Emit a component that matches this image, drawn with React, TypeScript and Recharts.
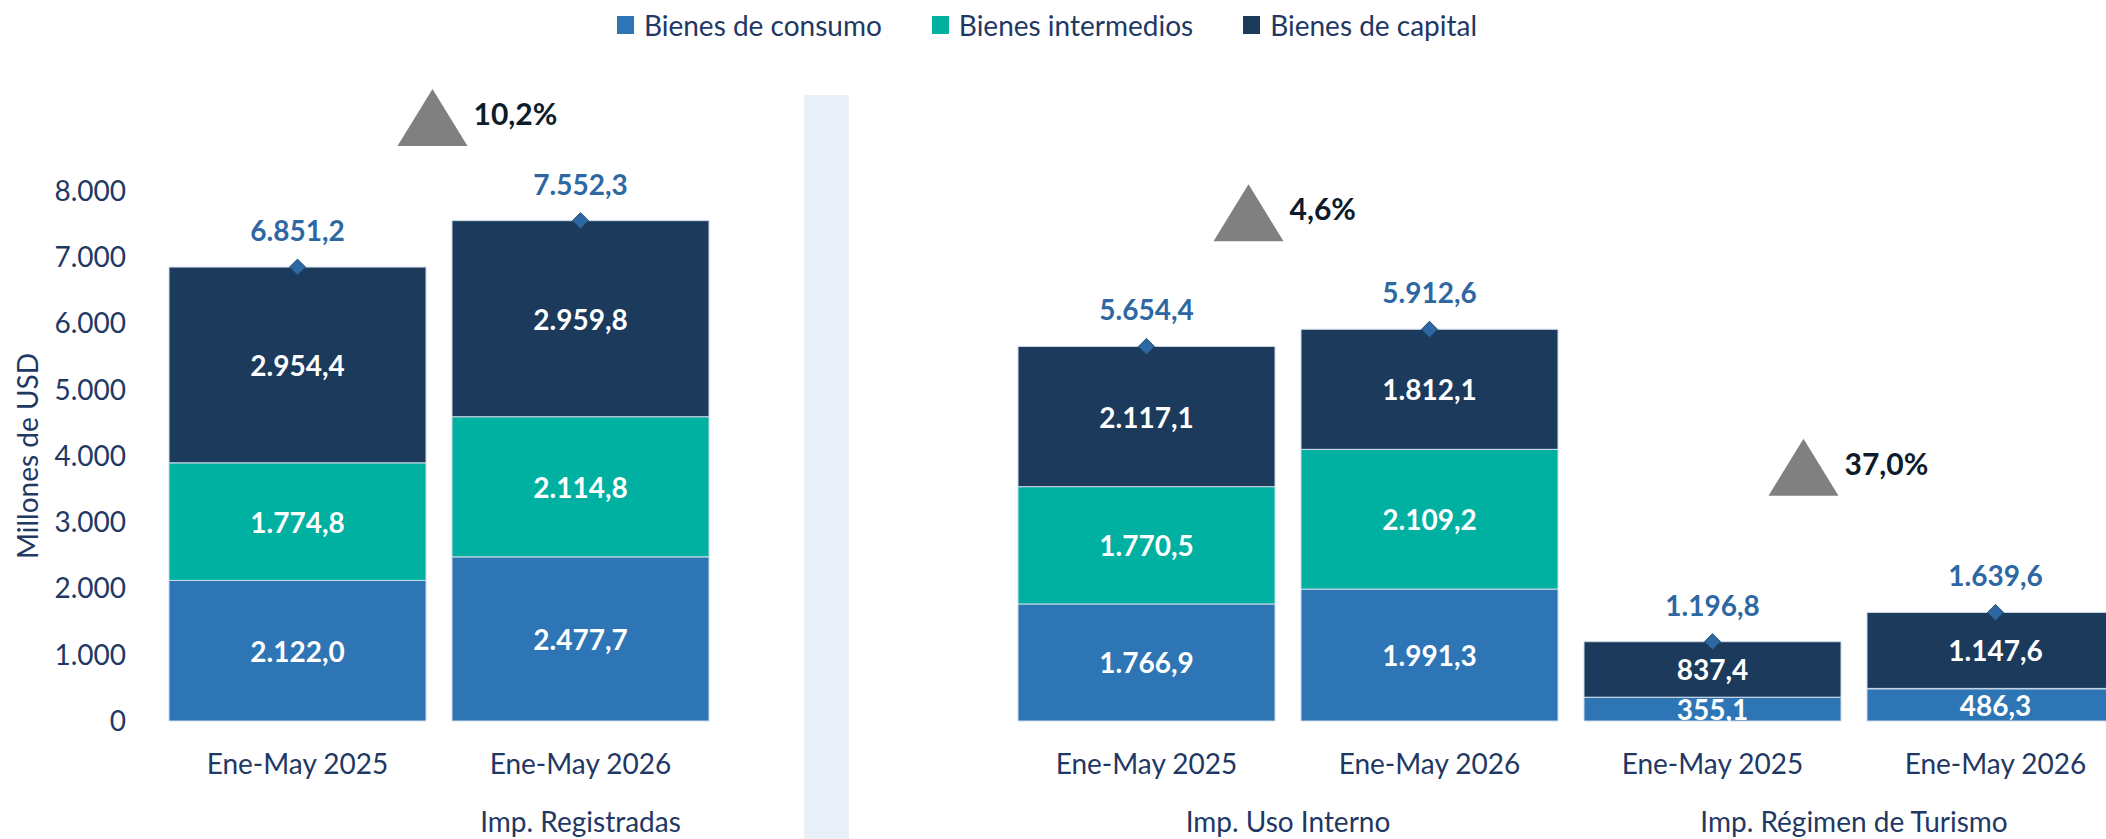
import { ComposedChart, Bar, Line, XAxis, YAxis, Legend, LabelList, ReferenceDot } from 'recharts';

// categorías (la del medio vacía separa los grupos)
const categoryIds = ['reg25', 'reg26', 'gap', 'uso25', 'uso26', 'tur25', 'tur26'];
const periodLabels = ['Ene-May 2025', 'Ene-May 2026', '', 'Ene-May 2025', 'Ene-May 2026', 'Ene-May 2025', 'Ene-May 2026'];

const consumo = [2122.0, 2477.7, null, 1766.9, 1991.3, 355.1, 486.3];
const intermedios = [1774.8, 2114.8, null, 1770.5, 2109.2, 4.3, 5.7];
const capital = [2954.4, 2959.8, null, 2117.1, 1812.1, 837.4, 1147.6];
const totales = [6851.2, 7552.3, null, 5654.4, 5912.6, 1196.8, 1639.6];

const yTicks = [0, 1000, 2000, 3000, 4000, 5000, 6000, 7000, 8000];

const seriesOrder = ['consumo', 'intermedios', 'capital'];

const groupNames = ['Imp. Registradas', 'Imp. Uso Interno', 'Imp. Régimen de Turismo'];
const groupFirst = [0, 3, 5];
const groupLast = [2, 4, 6];

const growthLabels = ['10,2%', '4,6%', '37,0%'];
const growthAt = ['reg26', 'uso26', 'tur26'];

// ubicación de los triángulos (valor del eje y de la base, corrimiento horizontal)
const growthBase = [8680, 7240, 3400];
const growthDx = [-148, -181, -192];

const NAVY = '#1F3864';
const FONT = 'Lato';
const C_CONSUMO = '#2E75B6';
const C_INTER = '#00B0A0';
const C_CAPITAL = '#1B3A5C';
const C_TOTAL = '#2D68A3';

const CHART_W = 2137;
const CHART_H = 839;
const Y_W = 156;
const BAND = (CHART_W - Y_W) / categoryIds.length;

const data = categoryIds.map((id, i) => ({
    id,
    consumo: consumo[i],
    intermedios: intermedios[i],
    capital: capital[i],
    total: totales[i],
}));

const fmt = (v: number) => {
    const [a, b] = v.toFixed(1).split('.');
    return a.replace(/\B(?=(\d{3})+(?!\d))/g, '.') + ',' + b;
};

const PeriodTick = (props: any) => {
    const { x, y, payload } = props;
    const i = categoryIds.indexOf(payload.value);
    const g = groupFirst.indexOf(i);
    return (
        <g>
            <text x={x} y={y + 42} textAnchor='middle' dominantBaseline='central' fill={NAVY} fontSize={28} fontFamily={FONT}>
                {periodLabels[i]}
            </text>
            {g >= 0 && (
                <text
                    x={x + ((groupLast[g] - groupFirst[g]) * BAND) / 2}
                    y={y + 100}
                    textAnchor='middle'
                    dominantBaseline='central'
                    fill={NAVY}
                    fontSize={28}
                    fontFamily={FONT}
                >
                    {groupNames[g]}
                </text>
            )}
        </g>
    );
};

const SegmentLabel = (props: any) => {
    const { x, y, width, height, value } = props;
    if (value == null || value < 100) return null;
    return (
        <text
            x={x + width / 2}
            y={y + height / 2}
            textAnchor='middle'
            dominantBaseline='central'
            fill='#fff'
            fontSize={28}
            fontWeight={700}
            fontFamily={FONT}
        >
            {fmt(value)}
        </text>
    );
};

const TotalLabel = (props: any) => {
    const { x, y, value } = props;
    if (value == null || y == null) return null;
    return (
        <text x={x} y={y - 37} textAnchor='middle' dominantBaseline='central' fill={C_TOTAL} fontSize={28} fontWeight={700} fontFamily={FONT}>
            {fmt(value)}
        </text>
    );
};

const Diamond = (props: any) => {
    const { cx, cy, index } = props;
    if (cy == null || props.payload?.total == null) return <g key={index} />;
    return (
        <path
            key={index}
            d={`M${cx},${cy - 8} L${cx + 8},${cy} L${cx},${cy + 8} L${cx - 8},${cy} Z`}
            fill={C_TOTAL}
            stroke='#1F4E79'
            strokeWidth={1}
        />
    );
};

const LegendContent = (props: any) => {
    const items = (props.payload || [])
        .filter((p: any) => p.type !== 'none' && seriesOrder.includes(p.dataKey))
        .sort((a: any, b: any) => seriesOrder.indexOf(a.dataKey) - seriesOrder.indexOf(b.dataKey));
    return (
        <div style={{ display: 'flex', justifyContent: 'center', alignItems: 'center', gap: 50, height: 34 }}>
            {items.map((p: any) => (
                <div key={p.value} style={{ display: 'flex', alignItems: 'center' }}>
                    <span style={{ width: 17, height: 18, background: p.color, marginRight: 10, display: 'inline-block' }} />
                    <span style={{ fontSize: 28, color: NAVY, fontFamily: FONT }}>{p.value}</span>
                </div>
            ))}
        </div>
    );
};

const YTitle = (props: any) => {
    const { viewBox } = props;
    const cx = 27;
    const cy = viewBox.y + viewBox.height / 2;
    return (
        <text
            x={cx}
            y={cy}
            transform={`rotate(-90, ${cx}, ${cy})`}
            textAnchor='middle'
            dominantBaseline='central'
            fill={NAVY}
            fontSize={28}
            fontFamily={FONT}
        >
            Millones de USD
        </text>
    );
};

const growthShape = (i: number) => (p: any) => {
    const cx = p.cx + growthDx[i];
    const cy = p.cy;
    return (
        <g>
            <polygon points={`${cx - 35},${cy} ${cx + 35},${cy} ${cx},${cy - 57}`} fill='#808080' />
            <text x={cx + 41} y={cy - 33} dominantBaseline='central' fill='#0D1B2A' fontSize={30} fontWeight={700} fontFamily={FONT}>
                {growthLabels[i]}
            </text>
        </g>
    );
};

const App = () => {
    return (
        <div
            style={{
                position: 'fixed',
                left: 0,
                top: 0,
                width: 2106,
                height: CHART_H,
                overflow: 'hidden',
                background: '#fff',
                fontFamily: FONT,
            }}
        >
            {/* franja separadora */}
            <div style={{ position: 'absolute', left: 804, top: 95, width: 45, height: 744, background: '#E9F0F8' }} />
            <div style={{ position: 'absolute', left: 0, top: 0 }}>
                <ComposedChart
                    width={CHART_W}
                    height={CHART_H}
                    data={data}
                    barCategoryGap={13}
                    margin={{ top: 191, right: 0, bottom: 88, left: 0 }}
                >
                    <XAxis
                        dataKey='id'
                        height={30}
                        interval={0}
                        axisLine={false}
                        tickLine={false}
                        tickSize={0}
                        tickMargin={0}
                        tick={<PeriodTick />}
                    />
                    <YAxis
                        width={Y_W}
                        domain={[0, 8000]}
                        ticks={yTicks}
                        axisLine={false}
                        tickLine={false}
                        tickSize={0}
                        tickMargin={30}
                        tick={{ fill: NAVY, fontSize: 28, fontFamily: FONT }}
                        tickFormatter={(v: number) => (v === 0 ? '0' : v.toLocaleString('de-DE'))}
                        label={<YTitle />}
                    />
                    <Legend verticalAlign='middle' align='center' wrapperStyle={{ top: 8, left: 0, width: 2094 }} content={<LegendContent />} />
                    <Bar dataKey='consumo' name='Bienes de consumo' stackId='a' fill={C_CONSUMO} stroke='#cfdbe8' strokeWidth={1} isAnimationActive={false}>
                        <LabelList dataKey='consumo' content={<SegmentLabel />} />
                    </Bar>
                    <Bar dataKey='intermedios' name='Bienes intermedios' stackId='a' fill={C_INTER} stroke='#cfdbe8' strokeWidth={1} isAnimationActive={false}>
                        <LabelList dataKey='intermedios' content={<SegmentLabel />} />
                    </Bar>
                    <Bar dataKey='capital' name='Bienes de capital' stackId='a' fill={C_CAPITAL} stroke='#cfdbe8' strokeWidth={1} isAnimationActive={false}>
                        <LabelList dataKey='capital' content={<SegmentLabel />} />
                    </Bar>
                    <Line
                        dataKey='total'
                        stroke='none'
                        legendType='none'
                        dot={Diamond}
                        activeDot={false}
                        isAnimationActive={false}
                    >
                        <LabelList dataKey='total' content={<TotalLabel />} />
                    </Line>
                    {growthLabels.map((g, i) => (
                        <ReferenceDot key={g} x={growthAt[i]} y={growthBase[i]} r={0} ifOverflow='visible' shape={growthShape(i)} />
                    ))}
                </ComposedChart>
            </div>
        </div>
    );
};

export default App;
